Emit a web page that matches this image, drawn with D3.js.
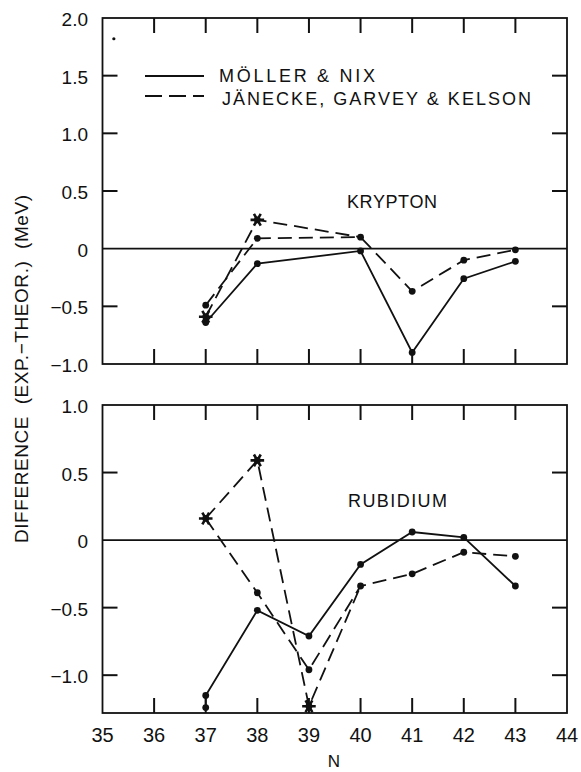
<!DOCTYPE html>
<html>
<head>
<meta charset="utf-8">
<script src="https://cdn.jsdelivr.net/npm/d3@7"></script>
<style>
	body { margin: 0; background: #fff; }
	svg { display: block; }
	text { font-family: "Liberation Sans", Arial, sans-serif; fill: #111; }
</style>
</head>
<body>
<div id="chart"></div>
<script>
// neutron number ticks
const nTicks = [35, 36, 37, 38, 39, 40, 41, 42, 43, 44]

// krypton (upper panel)
const krN = [37, 38, 40, 41, 42, 43]
const krMollerNix = [-0.64, -0.13, -0.02, -0.90, -0.26, -0.11]
const krJanecke = [-0.49, 0.09, 0.10, -0.37, -0.10, -0.01]
const krStarN = [37, 38]
const krJaneckeStar = [-0.59, 0.25]
const krStarJoin = 40
const krYTicks = [2.0, 1.5, 1.0, 0.5, 0, -0.5, -1.0]

// rubidium (lower panel)
const rbN = [37, 38, 39, 40, 41, 42, 43]
const rbMollerNix = [-1.15, -0.52, -0.71, -0.18, 0.06, 0.02, -0.34]
const rbMollerNixExtraN = [37]
const rbMollerNixExtra = [-1.24]
const rbJanecke = [0.16, -0.39, -0.96, -0.34, -0.25, -0.09, -0.12]
const rbStarN = [37, 38, 39]
const rbJaneckeStar = [0.16, 0.59, -1.23]
const rbStarJoin = 40
const rbYTicks = [1.0, 0.5, 0, -0.5, -1.0]

// stray speck in the corner of the original
const speck = [[35.22, 1.82]]

const width = 581
const height = 772
const tickLen = 15

const svg = d3.select("#chart")
	.append("svg")
	.attr("width", width)
	.attr("height", height)

const x = d3.scaleLinear().domain([35, 44]).range([102.5, 567])
const yTop = d3.scaleLinear().domain([-1, 2]).range([364, 18])
const yBot = d3.scaleLinear().domain([-1.28, 1]).range([713, 405])

const fmt = v => v === 0 ? "0" : d3.format(".1f")(v)

function draw_panel(y, yTicks, showX) {
	const g = svg.append("g")
	const top = y.range()[1]
	const bottom = y.range()[0]
	const left = x(35)
	const right = x(44)

	// inward ticks on all four sides
	nTicks.slice(1, -1).forEach(n => {
		g.append("line")
			.attr("x1", x(n)).attr("x2", x(n))
			.attr("y1", bottom).attr("y2", bottom - tickLen)
			.attr("stroke", "#111").attr("stroke-width", 2)
		g.append("line")
			.attr("x1", x(n)).attr("x2", x(n))
			.attr("y1", top).attr("y2", top + tickLen)
			.attr("stroke", "#111").attr("stroke-width", 2)
	})
	yTicks.filter(v => v !== 0 && y(v) > top + 1 && y(v) < bottom - 1).forEach(v => {
		g.append("line")
			.attr("x1", left).attr("x2", left + tickLen)
			.attr("y1", y(v)).attr("y2", y(v))
			.attr("stroke", "#111").attr("stroke-width", 2)
		g.append("line")
			.attr("x1", right).attr("x2", right - tickLen)
			.attr("y1", y(v)).attr("y2", y(v))
			.attr("stroke", "#111").attr("stroke-width", 2)
	})

	// tick labels
	g.selectAll(null).data(yTicks).enter().append("text")
		.attr("x", left - 14.5)
		.attr("y", d => y(d))
		.attr("dy", "0.42em")
		.attr("text-anchor", "end")
		.attr("font-size", 19)
		.text(fmt)

	if (showX) {
		g.selectAll(null).data(nTicks).enter().append("text")
			.attr("x", d => x(d))
			.attr("y", bottom + 29)
			.attr("text-anchor", "middle")
			.attr("font-size", 20)
			.text(d3.format("d"))
	}

	// frame
	g.append("rect")
		.attr("x", left)
		.attr("y", top)
		.attr("width", right - left)
		.attr("height", bottom - top)
		.attr("fill", "none")
		.attr("stroke", "#111")
		.attr("stroke-width", 1.8)

	// zero line
	g.append("line")
		.attr("x1", left).attr("x2", right)
		.attr("y1", y(0)).attr("y2", y(0))
		.attr("stroke", "#111")
		.attr("stroke-width", 1.6)

	return g
}

function line_path(g, y, pts, dashed) {
	g.append("path")
		.attr("d", d3.line().x(d => x(d[0])).y(d => y(d[1]))(pts))
		.attr("fill", "none")
		.attr("stroke", "#111")
		.attr("stroke-width", 1.8)
		.attr("stroke-dasharray", dashed ? "14,7" : null)
}

function dots(g, y, pts, r) {
	g.selectAll(null)
		.data(pts)
		.enter()
		.append("circle")
		.attr("cx", d => x(d[0]))
		.attr("cy", d => y(d[1]))
		.attr("r", r || 3.4)
		.attr("fill", "#111")
}

function stars(g, y, pts) {
	const sym = d3.symbol(d3.symbolAsterisk, 130)
	g.selectAll(null)
		.data(pts)
		.enter()
		.append("path")
		.attr("d", sym)
		.attr("transform", d => `translate(${x(d[0])},${y(d[1])}) rotate(90)`)
		.attr("fill", "none")
		.attr("stroke", "#111")
		.attr("stroke-width", 2.6)
	dots(g, y, pts)
}

const zip = (a, b) => a.map((v, i) => [v, b[i]])

// ---- krypton
const gKr = draw_panel(yTop, krYTicks, false)
const krMN = zip(krN, krMollerNix)
const krJ = zip(krN, krJanecke)
const krS = zip(krStarN, krJaneckeStar)
line_path(gKr, yTop, krMN, false)
line_path(gKr, yTop, krJ, true)
line_path(gKr, yTop, krS.concat([[krStarJoin, krJanecke[krN.indexOf(krStarJoin)]]]), true)
dots(gKr, yTop, krMN)
dots(gKr, yTop, krJ)
stars(gKr, yTop, krS)
dots(gKr, yTop, speck, 1.6)

gKr.append("text")
	.attr("x", 347).attr("y", 208)
	.attr("font-size", 18)
	.attr("textLength", 90)
	.text("KRYPTON")

// legend
const legend = svg.append("g")
legend.append("line")
	.attr("x1", 145).attr("x2", 204).attr("y1", 76).attr("y2", 76)
	.attr("stroke", "#111").attr("stroke-width", 1.8)
legend.append("line")
	.attr("x1", 145).attr("x2", 204).attr("y1", 96).attr("y2", 96)
	.attr("stroke", "#111").attr("stroke-width", 1.8)
	.attr("stroke-dasharray", "17,7")
legend.append("text")
	.attr("x", 219).attr("y", 82)
	.attr("font-size", 18)
	.attr("textLength", 156)
	.text("MÖLLER & NIX")
legend.append("text")
	.attr("x", 222).attr("y", 105)
	.attr("font-size", 18)
	.attr("textLength", 309)
	.text("JÄNECKE, GARVEY & KELSON")

// ---- rubidium
const gRb = draw_panel(yBot, rbYTicks, true)
const rbMN = zip(rbN, rbMollerNix)
const rbMNx = zip(rbMollerNixExtraN, rbMollerNixExtra)
const rbJ = zip(rbN, rbJanecke)
const rbS = zip(rbStarN, rbJaneckeStar)
line_path(gRb, yBot, rbMNx.concat(rbMN), false)
line_path(gRb, yBot, rbJ, true)
line_path(gRb, yBot, rbS.concat([[rbStarJoin, rbJanecke[rbN.indexOf(rbStarJoin)]]]), true)
dots(gRb, yBot, rbMN)
dots(gRb, yBot, rbMNx)
dots(gRb, yBot, rbJ.slice(1))
stars(gRb, yBot, rbS)

gRb.append("text")
	.attr("x", 348).attr("y", 507)
	.attr("font-size", 18)
	.attr("textLength", 99)
	.text("RUBIDIUM")

// axis titles
svg.append("text")
	.attr("x", 334).attr("y", 767)
	.attr("text-anchor", "middle")
	.attr("font-size", 17)
	.text("N")

svg.append("text")
	.attr("transform", "translate(28,369) rotate(-90)")
	.attr("text-anchor", "middle")
	.attr("font-size", 19)
	.attr("textLength", 348)
	.style("white-space", "pre")
	.text("DIFFERENCE  (EXP.\u2212THEOR.)  (MeV)")
</script>
</body>
</html>
